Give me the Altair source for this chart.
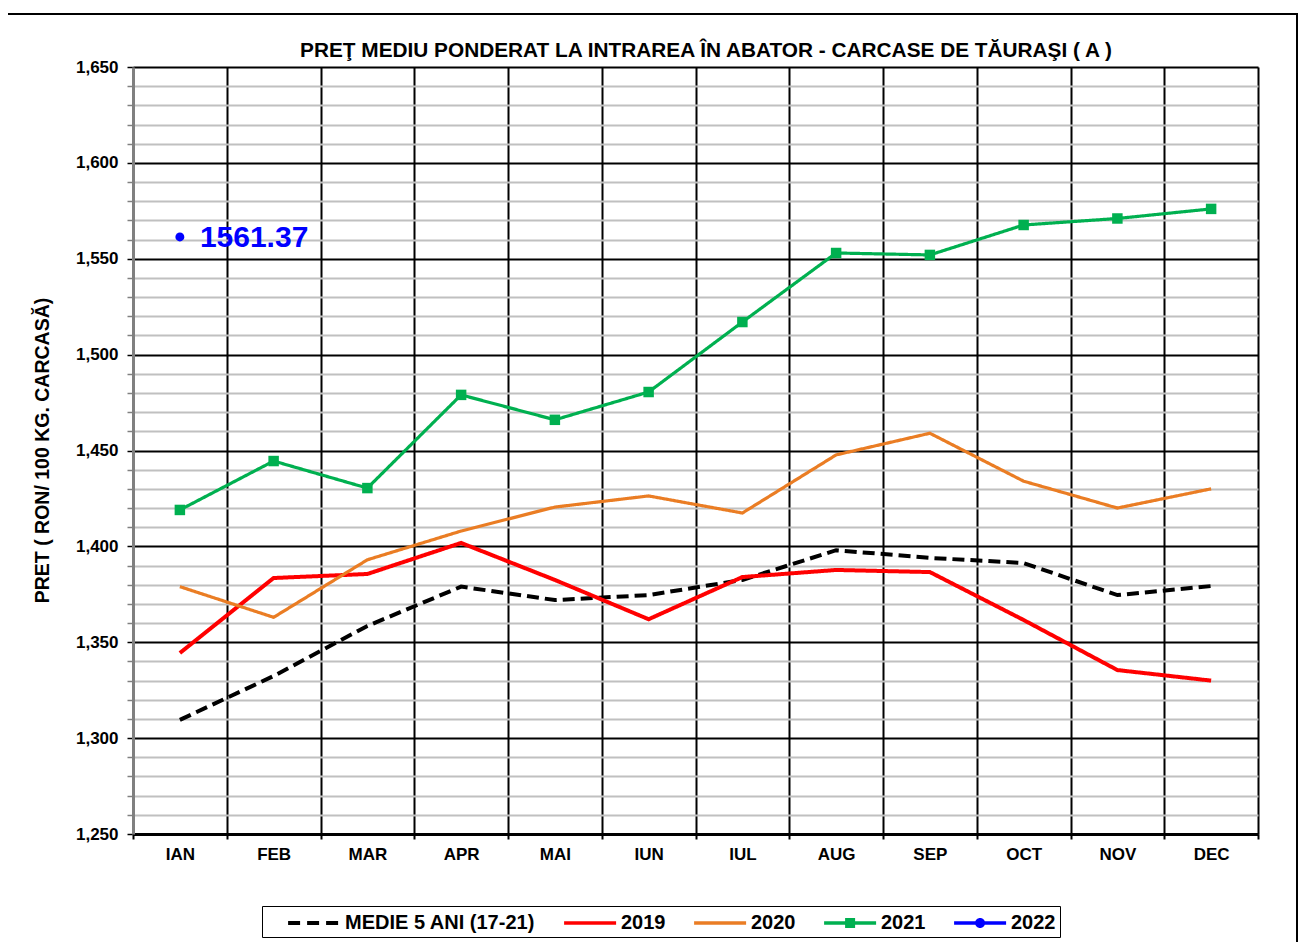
import altair as alt
import pandas as pd

MONTHS = ["IAN", "FEB", "MAR", "APR", "MAI", "IUN", "IUL", "AUG", "SEP", "OCT", "NOV", "DEC"]
SERIES = ["MEDIE 5 ANI (17-21)", "2019", "2020", "2021", "2022"]
COLORS = ["#000000", "#ff0000", "#ea7d24", "#00b050", "#0000ff"]

MEDIE = [1309.5, 1332.4, 1358.5, 1379.0, 1372.0, 1374.6, 1382.5, 1398.0, 1394.0, 1391.3, 1374.6, 1379.3]
Y2019 = [1344.4, 1383.5, 1385.6, 1401.8, 1382.5, 1362.0, 1384.0, 1387.7, 1386.6, 1361.6, 1335.5, 1330.0]
Y2020 = [1379.0, 1363.0, 1393.0, 1408.0, 1420.5, 1426.3, 1417.4, 1447.7, 1459.0, 1434.0, 1420.0, 1430.0]
Y2021 = [1419.0, 1444.5, 1430.4, 1479.0, 1466.0, 1480.5, 1517.0, 1553.0, 1552.0, 1567.6, 1571.0, 1576.0]
Y2022 = [1561.37]

Y_TICKS = list(range(1250, 1651, 10))
TITLE = "PREŢ MEDIU PONDERAT LA INTRAREA ÎN ABATOR - CARCASE DE TĂURAŞI ( A )"
Y_TITLE = "PRET ( RON/ 100 KG. CARCASĂ)"

rows = []
for name, vals in zip(SERIES, [MEDIE, Y2019, Y2020, Y2021, Y2022]):
    for m, v in zip(MONTHS, vals):
        rows.append({"series": name, "month": m, "value": v, "label": f"{v:.2f}"})
df = pd.DataFrame(rows)

FONT = "Liberation Sans"

# legend symbol glyphs (custom SVG paths, 1 unit = 13px at symbolSize 676)
LINE = "M0.7,-0.135H4.7V0.135H0.7Z"
DASH = "M0.7,-0.154H1.623V0.154H0.7Z M2.162,-0.154H3.085V0.154H2.162Z M3.623,-0.154H4.546V0.154H3.623Z"
SQUARE = LINE + " M2.315,-0.385H3.085V0.385H2.315Z"
CIRCLE = LINE + " M3.085,0A0.385,0.385 0 1,1 2.315,0A0.385,0.385 0 1,1 3.085,0Z"
SHAPES = [DASH, LINE, LINE, SQUARE, CIRCLE]
DASHES = [[12, 6], [1, 0], [1, 0], [1, 0], [1, 0]]
WIDTHS = [4, 4, 3.2, 3.2, 3]

x_enc = alt.X(
    "month:N", sort=MONTHS,
    scale=alt.Scale(paddingInner=0, paddingOuter=0),
    axis=alt.Axis(
        title=None, labelAngle=0, tickBand="extent", grid=True,
        gridColor="black", gridWidth=2, domainColor="black", domainWidth=3,
        tickColor="black", tickSize=5, tickWidth=2,
        labelFont=FONT, labelFontSize=17, labelFontWeight="bold", labelColor="black",
        labelPadding=7,
    ),
)
y_enc = alt.Y(
    "value:Q",
    scale=alt.Scale(domain=[1250, 1650], nice=False, zero=False),
    axis=alt.Axis(
        values=Y_TICKS, tickCount=60, labelOverlap=False,
        labelExpr="datum.value % 50 === 0 ? format(datum.value, ',') : ''",
        grid=True,
        gridColor=alt.condition("datum.value % 50 === 0", alt.value("black"), alt.value("#c0c0c0")),
        gridWidth=2,
        tickColor=alt.condition("datum.value % 50 === 0", alt.value("black"), alt.value("#808080")),
        tickSize=6, tickWidth=1.5,
        domainColor="#808080", domainWidth=3,
        labelFont=FONT, labelFontSize=17, labelFontWeight="bold", labelColor="black",
        labelPadding=9,
        title=Y_TITLE,
        titleFont=FONT, titleFontSize=19.5, titleFontWeight="bold", titleColor="black",
        titleAngle=270, titleX=-91, titleY=383, titleAlign="center", titleBaseline="middle",
    ),
)

color_scale = alt.Scale(domain=SERIES, range=COLORS)
legend_def = dict(
    title=None, orient="none", legendX=129, legendY=839,
    direction="horizontal", columns=5, symbolSize=676, symbolStrokeWidth=0,
    symbolOpacity=1, columnPadding=6, labelFont=FONT, labelFontSize=20,
    labelFontWeight="bold", labelColor="black", labelOffset=53, labelLimit=400,
    padding=4, strokeColor="black",
)

layers = []
# legend-only layer first: defines axes and the merged colour/shape legend, draws nothing
layers.append(
    alt.Chart(df).transform_filter("false").mark_point(
        filled=True, opacity=1, strokeWidth=0
    ).encode(
        x=x_enc, y=y_enc,
        color=alt.Color("series:N", scale=color_scale, sort=SERIES, legend=alt.Legend(**legend_def)),
        shape=alt.Shape("series:N", scale=alt.Scale(domain=SERIES, range=SHAPES), sort=SERIES,
                        legend=alt.Legend(**legend_def)),
    )
)

for s, c, d, w in zip(SERIES, COLORS, DASHES, WIDTHS):
    layers.append(
        alt.Chart(df).transform_filter(alt.datum.series == s).mark_line(
            color=c, strokeDash=d, strokeWidth=w
        ).encode(x=alt.X("month:N", sort=MONTHS), y="value:Q")
    )

layers.append(
    alt.Chart(df).transform_filter(alt.datum.series == "2021").mark_square(
        size=110, opacity=1, color=COLORS[3]
    ).encode(x=alt.X("month:N", sort=MONTHS), y="value:Q")
)
layers.append(
    alt.Chart(df).transform_filter(alt.datum.series == "2022").mark_circle(
        size=80, opacity=1, color=COLORS[4]
    ).encode(x=alt.X("month:N", sort=MONTHS), y="value:Q")
)
layers.append(
    alt.Chart(df).transform_filter(alt.datum.series == "2022").mark_text(
        align="left", baseline="middle", dx=20, dy=1, font=FONT, fontSize=30,
        fontWeight="bold", color=COLORS[4]
    ).encode(x=alt.X("month:N", sort=MONTHS), y="value:Q", text="label:N")
)

title = alt.Chart(alt.Data(values=[{"t": TITLE}])).mark_text(
    align="center", baseline="alphabetic", font=FONT, fontSize=20.8, fontWeight="bold", color="black"
).encode(
    x=alt.value(573), y=alt.value(-10), text="t:N"
)

frame = alt.Chart(alt.Data(values=[{"a": 1}])).mark_rect(
    fill=None, stroke="black", strokeWidth=2
).encode(
    x=alt.value(-126), x2=alt.value(1164), y=alt.value(-53), y2=alt.value(900)
)

chart = alt.layer(*layers, title, frame).properties(
    width=1125, height=767,
    autosize="none",
    padding={"left": 125, "top": 59, "right": 40, "bottom": 108},
).configure_view(
    stroke="black", strokeWidth=3
).configure_legend(
    strokeWidth=1.5
).configure(background="white")

chart.save("out.html", embed_options={"renderer": "svg", "actions": False})
